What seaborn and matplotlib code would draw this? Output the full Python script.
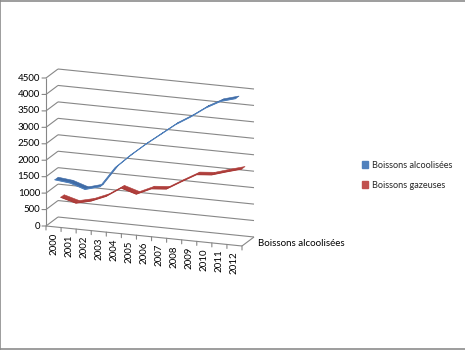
import numpy as np
import matplotlib
matplotlib.use("Agg")
import matplotlib.pyplot as plt
from matplotlib.transforms import Affine2D
from matplotlib.patches import Polygon, Patch
from matplotlib.lines import Line2D
import seaborn as sns

# ---- data -------------------------------------------------------------
years = [str(y) for y in range(2000, 2013)]
alcoolisees = [1400, 1350, 1200, 1330, 1950, 2370, 2750, 3100, 3450, 3730, 4050, 4300, 4430]
gazeuses = [730, 600, 710, 900, 1200, 1060, 1270, 1310, 1580, 1840, 1880, 2020, 2150]
series_names = ["Boissons alcoolisées", "Boissons gazeuses"]
value_ticks = list(range(0, 4501, 500))
depth_label = "Boissons alcoolisées"

# ---- style ------------------------------------------------------------
sns.set_theme(style="white")
plt.rcParams["font.family"] = ["Lato", "DejaVu Sans"]
legend_colors = ["#4F81BD", "#C0504D"]
ribbon_faces = ["#3F6BA6", "#B03F3C"]
ribbon_edges = ["#4F81BD", "#A93A37"]
grid_color = "#878787"
FS = 7

W, H, DPI = 465, 350, 100
fig = plt.figure(figsize=(W / DPI, H / DPI), dpi=DPI)
fig.patch.set_facecolor("white")

# back wall of the 3-D box (pixels), sheared so the floor falls to the right
wall_left, wall_bottom, wall_w, wall_h = 58, H - 217, 196, 148
ax = fig.add_axes([wall_left / W, wall_bottom / H, wall_w / W, wall_h / H])
xlim = (-0.5, len(years) - 0.5)
ylim = (0, value_ticks[-1])
ax.set_xlim(*xlim)
ax.set_ylim(*ylim)
ax.set_axis_off()

slope = 0.102
shear = (Affine2D().translate(-wall_left, -wall_bottom)
         .skew(0, -np.arctan(slope))
         .translate(wall_left, wall_bottom))
T = ax.transData + shear

# depth direction: moving from the back wall to the front plane (pixels)
depth_px = np.array([-12.0, -9.0])
origin = T.transform((0.0, 0.0))
depth_vec = T.inverted().transform(origin + depth_px)


def pt(x, v, f):
    """Data point at category x, value v, frontness f (0 back wall, 1 front)."""
    return (x + f * depth_vec[0], v + f * depth_vec[1])


def seg(p, q, **kw):
    ax.plot([p[0], q[0]], [p[1], q[1]], transform=T, clip_on=False, **kw)


def shifted(dx, dy):
    return T + Affine2D().translate(dx, dy)


def tick(p, dx, dy):
    ax.annotate("", xy=p, xycoords=T, xytext=(dx, dy), textcoords="offset pixels",
                arrowprops=dict(arrowstyle="-", color=grid_color, lw=0.8,
                                shrinkA=0, shrinkB=0))


gkw = dict(color=grid_color, lw=0.8, solid_capstyle="butt", zorder=1)
x0, x1 = xlim

# back-wall and side-wall gridlines
for v in value_ticks:
    seg(pt(x0, v, 0), pt(x1, v, 0), **gkw)
    seg(pt(x0, v, 0), pt(x0, v, 1), **gkw)

# floor edges
seg(pt(x0, 0, 1), pt(x1, 0, 1), **gkw)
seg(pt(x1, 0, 1), pt(x1, 0, 0), **gkw)

# value axis on the front-left edge
seg(pt(x0, 0, 1), pt(x0, ylim[1], 1), **gkw)
for v in value_ticks:
    p = pt(x0, v, 1)
    tick(p, -4, 0)
    ax.text(*p, str(v), transform=shifted(-6, 0), ha="right", va="center",
            fontsize=FS, color="black")

# category ticks and labels on the front floor edge
for k in range(len(years) + 1):
    tick(pt(k - 0.5, 0, 1), 0, -4)
for i, lab in enumerate(years):
    p = pt(i, 0, 1)
    ax.text(*p, lab, transform=shifted(0, -6), rotation=90, ha="center", va="top",
            fontsize=FS, color="black")

# depth (series) axis label on the right floor edge
p = pt(x1, 0, 0.5)
ax.text(*p, depth_label, transform=shifted(10, -2), ha="left", va="center",
        fontsize=FS, color="black")

# ribbons: back series first, front series last
half = 0.14
frontness = {series_names[0]: 0.75, series_names[1]: 0.25}
series_values = {series_names[0]: alcoolisees, series_names[1]: gazeuses}
order = [1, 0]
xs = np.arange(len(years))
for idx in order:
    name = series_names[idx]
    vals = series_values[name]
    fa, fb = frontness[name] - half, frontness[name] + half
    for i in range(len(xs) - 1):
        quad = [pt(xs[i], vals[i], fa), pt(xs[i + 1], vals[i + 1], fa),
                pt(xs[i + 1], vals[i + 1], fb), pt(xs[i], vals[i], fb)]
        ax.add_patch(Polygon(quad, closed=True, transform=T, clip_on=False,
                             facecolor=ribbon_faces[idx], edgecolor=ribbon_faces[idx],
                             lw=0.4, zorder=3 + (1 - idx)))
    front = np.array([pt(x, v, fb) for x, v in zip(xs, vals)])
    sns.lineplot(x=front[:, 0], y=front[:, 1], ax=ax, color=ribbon_edges[idx],
                 lw=0.8, transform=T, sort=False, clip_on=False, legend=False,
                 zorder=3.5 + (1 - idx))

ax.set_xlim(*xlim)
ax.set_ylim(*ylim)

# legend
handles = [Patch(facecolor=c, edgecolor=c) for c in legend_colors]
fig.legend(handles, series_names, loc="upper left",
           bbox_to_anchor=(358 / W, 1 - 157 / H), frameon=False, fontsize=6.6,
           handlelength=0.7, handleheight=0.7, handletextpad=0.4,
           labelspacing=1.2, borderaxespad=0)

# chart frame (left, top, bottom edges)
for xd, yd in [([0.001, 0.001], [0, 1]), ([0, 1], [0.998, 0.998]), ([0, 1], [0.002, 0.002])]:
    fig.add_artist(Line2D(xd, yd, transform=fig.transFigure, color="#8c8c8c", lw=1.2))

fig.savefig("out.png", dpi=DPI)
